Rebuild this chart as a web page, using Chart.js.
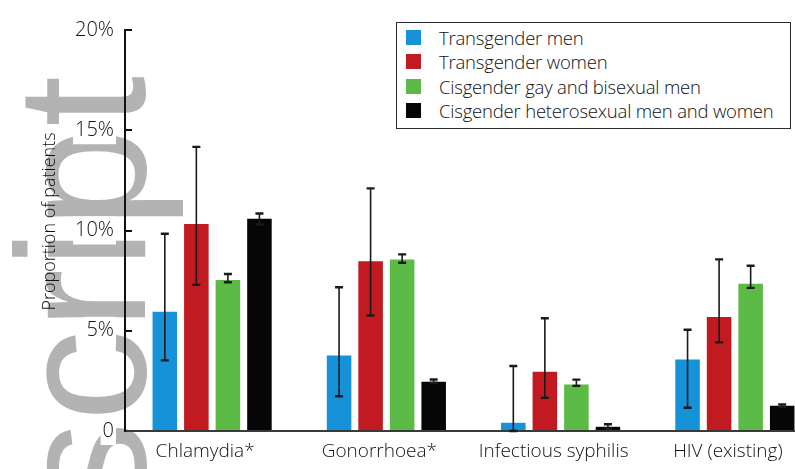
<!DOCTYPE html>
<html>
<head>
<meta charset="utf-8">
<script src="https://cdn.jsdelivr.net/npm/chart.js@4.4.0/dist/chart.umd.min.js"></script>
<style>
  html, body { margin: 0; padding: 0; overflow: hidden; background: #fff; }
  #wrap { position: relative; width: 795px; height: 469px; overflow: hidden; }
  #mark { position: absolute; left: 0; top: 0; }
  #chart { position: absolute; left: 0; top: 0; }
  #legend {
    position: absolute; left: 396px; top: 22px; width: 395px; height: 107px;
    box-sizing: border-box; border: 1.5px solid #2b2b2b; background: #fff;
    padding: 2px 0 0 9px; font-family: 'Open Sans', sans-serif; font-weight: 300;
    font-size: 18.5px; color: #111; letter-spacing: -0.2px;
  }
  #legend .row { height: 24.5px; display: flex; align-items: center; white-space: nowrap; }
  #legend .box { width: 15px; height: 15px; margin-right: 18px; flex: none; }
</style>
</head>
<body>
<div id="wrap">
  <svg id="mark" width="795" height="469">
    <text transform="translate(145,513) rotate(-90)" font-family="Liberation Sans, Arial, sans-serif"
          font-size="183" fill="#b3b3b3">script</text>
  </svg>
  <canvas id="chart" width="822" height="469"></canvas>
  <div id="legend"></div>
</div>
<script>
// data (percent of patients)
const categories = ['Chlamydia*', 'Gonorrhoea*', 'Infectious syphilis', 'HIV (existing)'];
const yTicks = [0, 5, 10, 15, 20];

const transMen      = [5.95, 3.77, 0.41, 3.57];
const transMenLow   = [3.52, 1.73, 0.0, 1.16];
const transMenHigh  = [9.84, 7.17, 3.24, 5.05];

const transWomen     = [10.32, 8.47, 2.95, 5.68];
const transWomenLow  = [7.29, 5.76, 1.66, 4.42];
const transWomenHigh = [14.17, 12.1, 5.62, 8.56];

const cisGay     = [7.53, 8.55, 2.32, 7.34];
const cisGayLow  = [7.42, 8.39, 2.25, 7.14];
const cisGayHigh = [7.83, 8.81, 2.56, 8.24];

const cisHetero     = [10.58, 2.46, 0.21, 1.26];
const cisHeteroLow  = [10.3, 2.4, 0.1, 1.2];
const cisHeteroHigh = [10.85, 2.57, 0.34, 1.33];

const FONT = "'Open Sans', sans-serif";

// draws the confidence intervals on top of each bar
const errorBars = {
  id: 'errorBars',
  afterDatasetsDraw(chart) {
    const ctx = chart.ctx;
    const y = chart.scales.y;
    chart.data.datasets.forEach((ds, i) => {
      chart.getDatasetMeta(i).data.forEach((bar, j) => {
        const top = y.getPixelForValue(ds.errHigh[j]);
        const bot = y.getPixelForValue(ds.errLow[j]);
        ctx.save();
        ctx.strokeStyle = '#1a1a1a';
        ctx.lineWidth = 1.6;
        ctx.beginPath();
        ctx.moveTo(bar.x, top);
        ctx.lineTo(bar.x, bot);
        ctx.stroke();
        ctx.lineWidth = 2.4;
        ctx.beginPath();
        ctx.moveTo(bar.x - 4, top); ctx.lineTo(bar.x + 4, top);
        ctx.moveTo(bar.x - 4, bot); ctx.lineTo(bar.x + 4, bot);
        ctx.stroke();
        ctx.restore();
      });
    });
  }
};

const ctx = document.getElementById('chart').getContext('2d');
const chart = new Chart(ctx, {
  type: 'bar',
  data: {
    labels: categories,
    datasets: [
      { label: 'Transgender men', data: transMen, errLow: transMenLow, errHigh: transMenHigh, backgroundColor: '#1592d8' },
      { label: 'Transgender women', data: transWomen, errLow: transWomenLow, errHigh: transWomenHigh, backgroundColor: '#c11a20' },
      { label: 'Cisgender gay and bisexual men', data: cisGay, errLow: cisGayLow, errHigh: cisGayHigh, backgroundColor: '#5cba46' },
      { label: 'Cisgender heterosexual men and women', data: cisHetero, errLow: cisHeteroLow, errHigh: cisHeteroHigh, backgroundColor: '#060606' }
    ]
  },
  options: {
    responsive: false,
    animation: false,
    layout: { padding: { top: 24, right: 0, bottom: 0, left: 0 } },
    datasets: { bar: { categoryPercentage: 0.724, barPercentage: 0.778 } },
    plugins: { legend: { display: false }, tooltip: { enabled: false } },
    scales: {
      x: {
        grid: { display: false, drawTicks: false },
        border: { display: true, color: '#3a3a3a', width: 2 },
        ticks: { color: '#111', padding: 9, labelOffset: -7, maxRotation: 0, autoSkip: false,
                 font: { family: FONT, size: 19, weight: 300 } },
        afterFit: s => { s.height = 38; }
      },
      y: {
        min: 0, max: 20,
        afterBuildTicks: s => { s.ticks = yTicks.map(v => ({ value: v })); },
        grid: { drawOnChartArea: false, drawTicks: true, tickLength: -7, color: '#111', lineWidth: 2 },
        border: { display: true, color: '#111', width: 2 },
        ticks: {
          color: '#111', padding: 18,
          font: { family: FONT, size: 20, weight: 300 },
          showLabelBackdrop: true, backdropColor: '#fff', backdropPadding: 2,
          callback: v => v === 0 ? '0' : v + '%'
        },
        title: {
          display: true, text: '\u2002\u2002Proportion of patients', color: '#111',
          padding: { top: 39, bottom: 0 },
          font: { family: FONT, size: 18, weight: 300 }
        },
        afterFit: s => { s.width = 125; }
      }
    }
  },
  plugins: [errorBars]
});

// legend box built from the datasets
const legendEl = document.getElementById('legend');
chart.data.datasets.forEach(ds => {
  const row = document.createElement('div');
  row.className = 'row';
  const box = document.createElement('span');
  box.className = 'box';
  box.style.background = ds.backgroundColor;
  row.appendChild(box);
  row.appendChild(document.createTextNode(ds.label));
  legendEl.appendChild(row);
});
</script>
</body>
</html>
